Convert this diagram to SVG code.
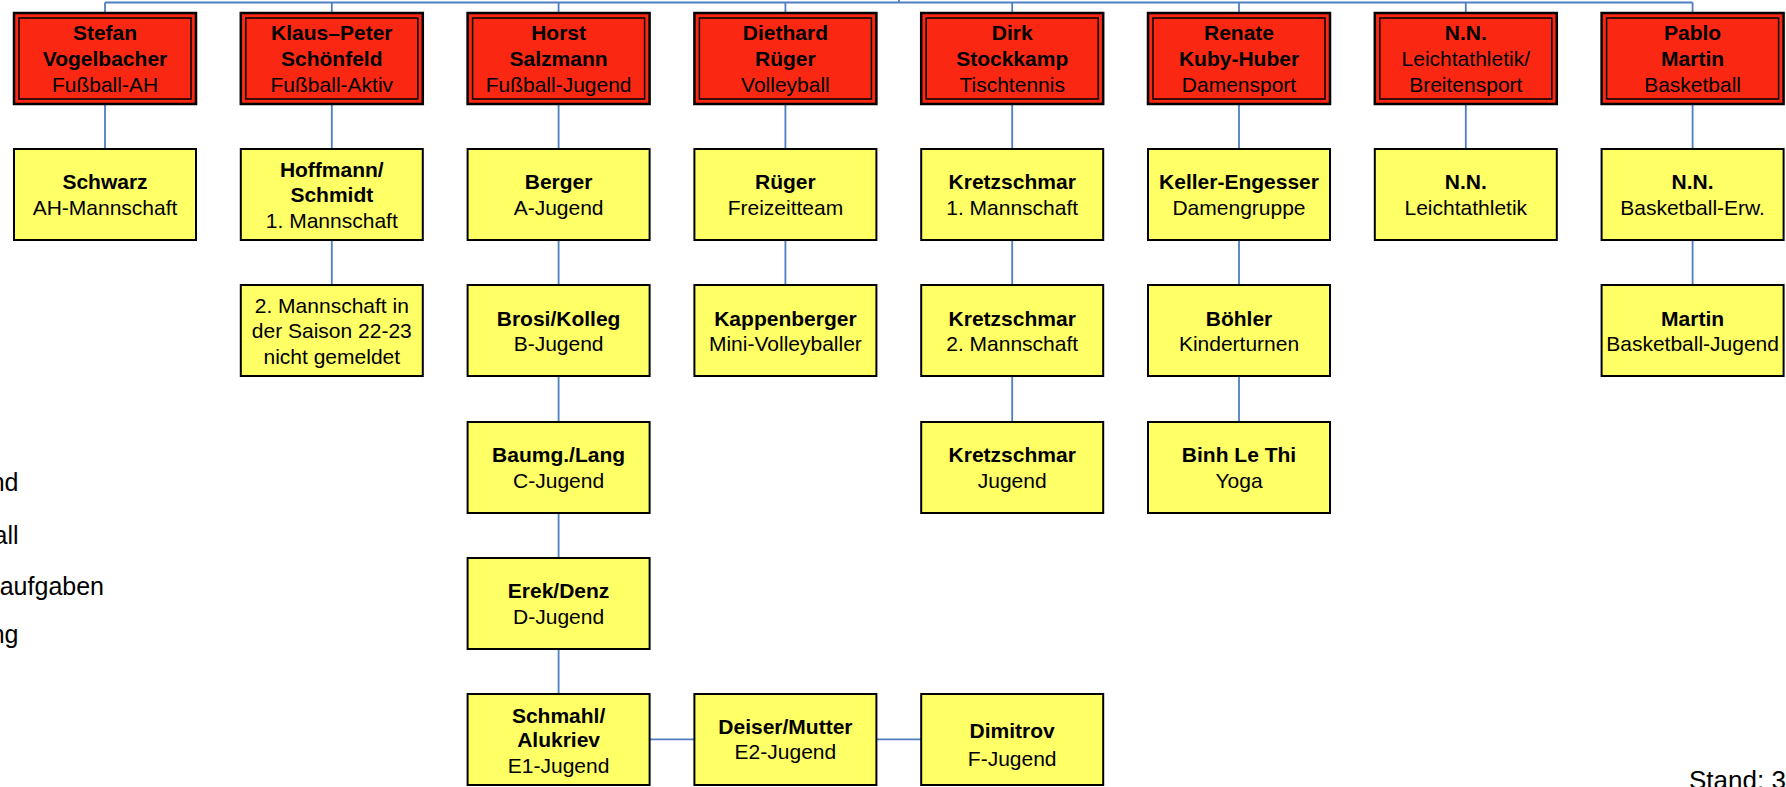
<svg xmlns="http://www.w3.org/2000/svg" width="1786" height="787" viewBox="0 0 1786 787">
<style>
.r{fill:#FA2813;stroke:#000;stroke-width:2.5}
.ri{fill:none;stroke:#000;stroke-width:1.5}
.y{fill:#FFFF66;stroke:#000;stroke-width:2}
text{font-family:"Liberation Sans",Arial,sans-serif;font-size:21px;fill:#000;text-anchor:middle}
.b{font-weight:bold}
.side{font-size:25px;text-anchor:end}
.c{fill:none;stroke:#4F7FC0;stroke-width:1.8}
</style>
<rect width="1786" height="787" fill="#fff"/>
<g id="connectors" class="c">
<path d="M105,2.5H1692.6M899,0V2.5"/>
<path d="M105,2.5V13M331.8,2.5V13M558.6,2.5V13M785.4,2.5V13M1012.2,2.5V13M1239,2.5V13M1465.8,2.5V13M1692.6,2.5V13"/>
<path d="M105,104V149M331.8,104V149M558.6,104V149M785.4,104V149M1012.2,104V149M1239,104V149M1465.8,104V149M1692.6,104V149"/>
<path d="M331.8,240V285M558.6,240V285M785.4,240V285M1012.2,240V285M1239,240V285M1692.6,240V285"/>
<path d="M558.6,376V422M1012.2,376V422M1239,376V422M558.6,513V558M558.6,649V694"/>
<path d="M649.6,739.3H694.4M876.4,739.3H921.2"/>
</g>
<g id="h0"><rect class="r" x="14" y="13" width="182" height="91"/><rect class="ri" x="19" y="18" width="172" height="81"/><text class="b" x="105" y="40">Stefan</text><text class="b" x="105" y="66">Vogelbacher</text><text x="105" y="92">Fußball-AH</text></g>
<g id="h1"><rect class="r" x="240.8" y="13" width="182" height="91"/><rect class="ri" x="245.8" y="18" width="172" height="81"/><text class="b" x="331.8" y="40">Klaus–Peter</text><text class="b" x="331.8" y="66">Schönfeld</text><text x="331.8" y="92">Fußball-Aktiv</text></g>
<g id="h2"><rect class="r" x="467.6" y="13" width="182" height="91"/><rect class="ri" x="472.6" y="18" width="172" height="81"/><text class="b" x="558.6" y="40">Horst</text><text class="b" x="558.6" y="66">Salzmann</text><text x="558.6" y="92">Fußball-Jugend</text></g>
<g id="h3"><rect class="r" x="694.4" y="13" width="182" height="91"/><rect class="ri" x="699.4" y="18" width="172" height="81"/><text class="b" x="785.4" y="40">Diethard</text><text class="b" x="785.4" y="66">Rüger</text><text x="785.4" y="92">Volleyball</text></g>
<g id="h4"><rect class="r" x="921.2" y="13" width="182" height="91"/><rect class="ri" x="926.2" y="18" width="172" height="81"/><text class="b" x="1012.2" y="40">Dirk</text><text class="b" x="1012.2" y="66">Stockkamp</text><text x="1012.2" y="92">Tischtennis</text></g>
<g id="h5"><rect class="r" x="1148" y="13" width="182" height="91"/><rect class="ri" x="1153" y="18" width="172" height="81"/><text class="b" x="1239" y="40">Renate</text><text class="b" x="1239" y="66">Kuby-Huber</text><text x="1239" y="92">Damensport</text></g>
<g id="h6"><rect class="r" x="1374.8" y="13" width="182" height="91"/><rect class="ri" x="1379.8" y="18" width="172" height="81"/><text class="b" x="1465.8" y="40">N.N.</text><text x="1465.8" y="66">Leichtathletik/</text><text x="1465.8" y="92">Breitensport</text></g>
<g id="h7"><rect class="r" x="1601.6" y="13" width="182" height="91"/><rect class="ri" x="1606.6" y="18" width="172" height="81"/><text class="b" x="1692.6" y="40">Pablo</text><text class="b" x="1692.6" y="66">Martin</text><text x="1692.6" y="92">Basketball</text></g>

<g id="schwarz"><rect class="y" x="14" y="149" width="182" height="91"/><text class="b" x="105" y="189">Schwarz</text><text x="105" y="215">AH-Mannschaft</text></g>
<g id="hoffmann"><rect class="y" x="240.8" y="149" width="182" height="91"/><text class="b" x="331.8" y="177">Hoffmann/</text><text class="b" x="331.8" y="202">Schmidt</text><text x="331.8" y="228">1. Mannschaft</text></g>
<g id="mannschaft2"><rect class="y" x="240.8" y="285" width="182" height="91"/><text x="331.8" y="313">2. Mannschaft in</text><text x="331.8" y="338">der Saison 22-23</text><text x="331.8" y="364">nicht gemeldet</text></g>
<g id="berger"><rect class="y" x="467.6" y="149" width="182" height="91"/><text class="b" x="558.6" y="189">Berger</text><text x="558.6" y="215">A-Jugend</text></g>
<g id="brosi"><rect class="y" x="467.6" y="285" width="182" height="91"/><text class="b" x="558.6" y="326">Brosi/Kolleg</text><text x="558.6" y="351">B-Jugend</text></g>
<g id="baumg"><rect class="y" x="467.6" y="422" width="182" height="91"/><text class="b" x="558.6" y="462">Baumg./Lang</text><text x="558.6" y="488">C-Jugend</text></g>
<g id="erek"><rect class="y" x="467.6" y="558" width="182" height="91"/><text class="b" x="558.6" y="598">Erek/Denz</text><text x="558.6" y="624">D-Jugend</text></g>
<g id="schmahl"><rect class="y" x="467.6" y="694" width="182" height="91"/><text class="b" x="558.6" y="723">Schmahl/</text><text class="b" x="558.6" y="747">Alukriev</text><text x="558.6" y="773">E1-Jugend</text></g>
<g id="deiser"><rect class="y" x="694.4" y="694" width="182" height="91"/><text class="b" x="785.4" y="734">Deiser/Mutter</text><text x="785.4" y="759">E2-Jugend</text></g>
<g id="dimitrov"><rect class="y" x="921.2" y="694" width="182" height="91"/><text class="b" x="1012.2" y="738">Dimitrov</text><text x="1012.2" y="766">F-Jugend</text></g>
<g id="rueger"><rect class="y" x="694.4" y="149" width="182" height="91"/><text class="b" x="785.4" y="189">Rüger</text><text x="785.4" y="215">Freizeitteam</text></g>
<g id="kappenberger"><rect class="y" x="694.4" y="285" width="182" height="91"/><text class="b" x="785.4" y="326">Kappenberger</text><text x="785.4" y="351">Mini-Volleyballer</text></g>
<g id="kretzschmar1"><rect class="y" x="921.2" y="149" width="182" height="91"/><text class="b" x="1012.2" y="189">Kretzschmar</text><text x="1012.2" y="215">1. Mannschaft</text></g>
<g id="kretzschmar2"><rect class="y" x="921.2" y="285" width="182" height="91"/><text class="b" x="1012.2" y="326">Kretzschmar</text><text x="1012.2" y="351">2. Mannschaft</text></g>
<g id="kretzschmar3"><rect class="y" x="921.2" y="422" width="182" height="91"/><text class="b" x="1012.2" y="462">Kretzschmar</text><text x="1012.2" y="488">Jugend</text></g>
<g id="keller"><rect class="y" x="1148" y="149" width="182" height="91"/><text class="b" x="1239" y="189">Keller-Engesser</text><text x="1239" y="215">Damengruppe</text></g>
<g id="boehler"><rect class="y" x="1148" y="285" width="182" height="91"/><text class="b" x="1239" y="326">Böhler</text><text x="1239" y="351">Kinderturnen</text></g>
<g id="binh"><rect class="y" x="1148" y="422" width="182" height="91"/><text class="b" x="1239" y="462">Binh Le Thi</text><text x="1239" y="488">Yoga</text></g>
<g id="nn-la"><rect class="y" x="1374.8" y="149" width="182" height="91"/><text class="b" x="1465.8" y="189">N.N.</text><text x="1465.8" y="215">Leichtathletik</text></g>
<g id="nn-bb"><rect class="y" x="1601.6" y="149" width="182" height="91"/><text class="b" x="1692.6" y="189">N.N.</text><text x="1692.6" y="215">Basketball-Erw.</text></g>
<g id="martin"><rect class="y" x="1601.6" y="285" width="182" height="91"/><text class="b" x="1692.6" y="326">Martin</text><text x="1692.6" y="351">Basketball-Jugend</text></g>

<g id="side-texts">
<text class="side" x="18.5" y="491">nd</text>
<text class="side" x="18.5" y="544">all</text>
<text class="side" x="104" y="595">aufgaben</text>
<text class="side" x="18.5" y="643">ng</text>
<text class="side" style="font-size:26px;text-anchor:start" x="1689" y="789">Stand: 3</text>
</g>
</svg>
